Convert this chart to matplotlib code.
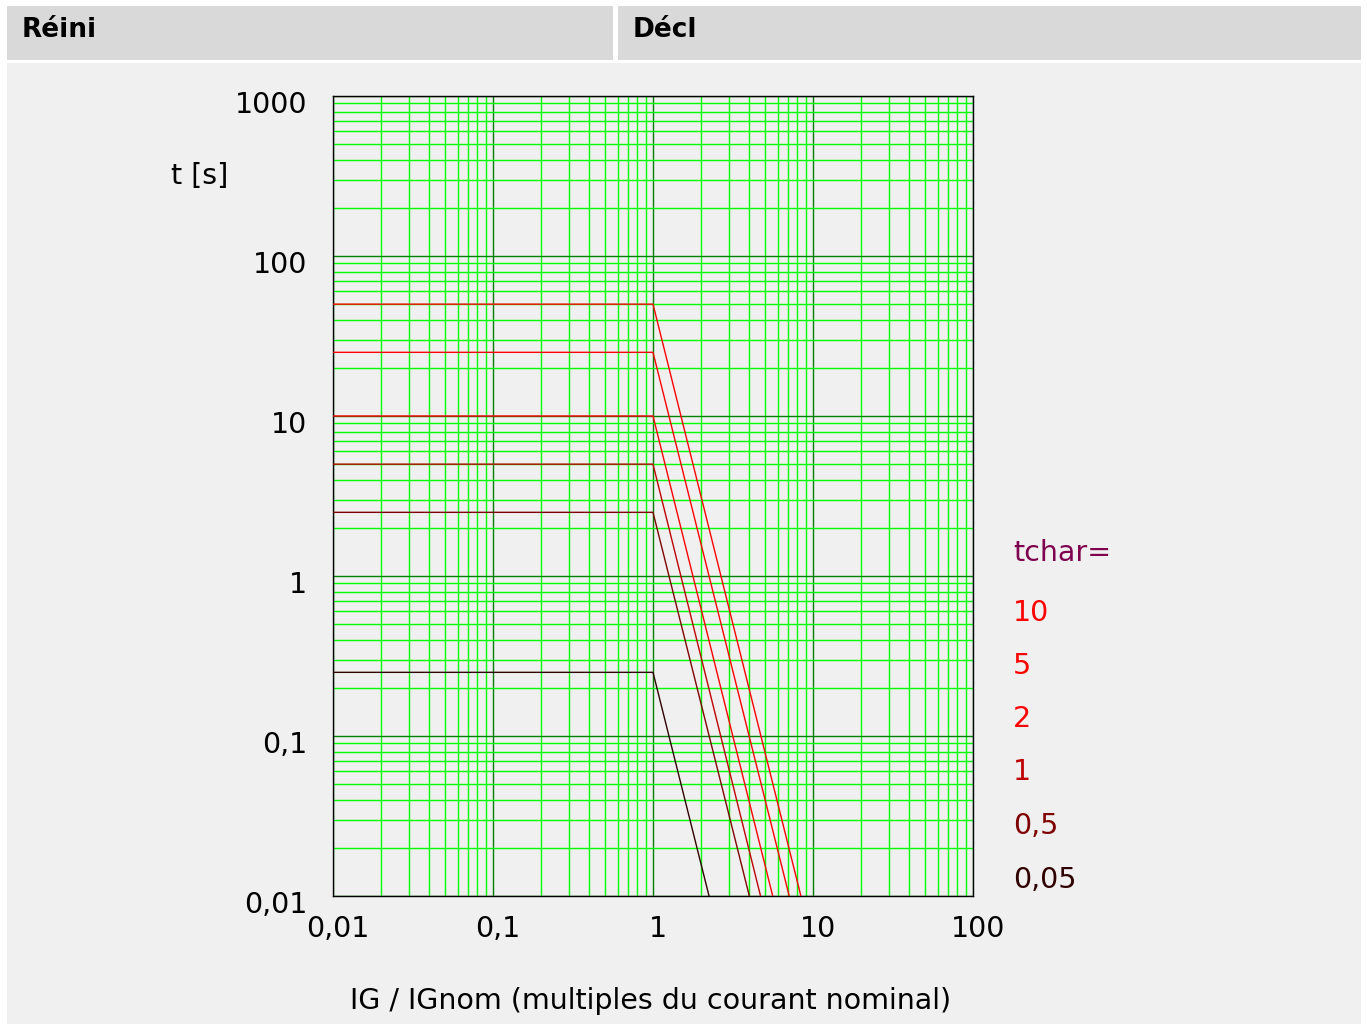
import matplotlib

matplotlib.use("Agg")

import matplotlib.pyplot as plt  # noqa: E402
import matplotlib.transforms as mtransforms  # noqa: E402
from matplotlib.patches import Rectangle  # noqa: E402
from matplotlib.ticker import FixedLocator, LogLocator, NullFormatter  # noqa: E402

# ── data ──────────────────────────────────────────────────────────────────────

tchar_labels = ["10", "5", "2", "1", "0,5", "0,05"]
plateau_t = [50, 25, 10, 5, 2.5, 0.25]   # t [s] for IG/IGnom < 1
knee_x = 1.0
end_x = [8.4, 7.1, 5.6, 4.7, 4.0, 2.24]  # where each curve reaches 0.01 s
line_colors = ["#ff0000", "#ff0000", "#ff0000", "#c00000", "#800000", "#300000"]

x_ticks = [0.01, 0.1, 1, 10, 100]
x_ticklabels = ["0,01", "0,1", "1", "10", "100"]
y_ticks = [0.01, 0.1, 1, 10, 100, 1000]
y_ticklabels = ["0,01", "0,1", "1", "10", "100", "1000"]

# ── layout ────────────────────────────────────────────────────────────────────

W, H = 1367, 1024
DPI = 100
FS = 20.5


def fx(px):
    return px / W


def fy(py):
    return 1 - py / H


fig = plt.figure(figsize=(W / DPI, H / DPI), dpi=DPI, facecolor="white")

# header boxes and body panel
for x0, y0, x1, y1, c in [
    (7, 6, 613, 60, "#d9d9d9"),
    (618, 6, 1361, 60, "#d9d9d9"),
    (7, 63, 1361, 1024, "#f0f0f0"),
]:
    fig.patches.append(Rectangle((fx(x0), fy(y1)), fx(x1 - x0), (y1 - y0) / H,
                                 transform=fig.transFigure, facecolor=c,
                                 edgecolor="none", zorder=-10))

fig.text(fx(22), fy(30), "Réini", fontsize=19, fontweight="bold", va="center", ha="left")
fig.text(fx(633), fy(30), "Décl", fontsize=19, fontweight="bold", va="center", ha="left")

ax = fig.add_axes([fx(333), fy(896), fx(973 - 333), (896 - 96) / H])
ax.set_zorder(1)
ax.set_facecolor("#f0f0f0")
ax.set_xscale("log")
ax.set_yscale("log")
ax.set_xlim(0.01, 100)
ax.set_ylim(0.01, 1000)

# grid: light green minor, dark green decades
ax.xaxis.set_minor_locator(LogLocator(base=10, subs=range(2, 10), numticks=20))
ax.yaxis.set_minor_locator(LogLocator(base=10, subs=range(2, 10), numticks=20))
ax.xaxis.set_minor_formatter(NullFormatter())
ax.yaxis.set_minor_formatter(NullFormatter())
ax.grid(True, which="minor", color="#00ff00", linewidth=1.0)
ax.grid(True, which="major", color="#008000", linewidth=1.0)
ax.set_axisbelow(True)

for sp in ax.spines.values():
    sp.set_color("black")
    sp.set_linewidth(1.0)

ax.xaxis.set_major_locator(FixedLocator(x_ticks))
ax.set_xticklabels(x_ticklabels)
ax.yaxis.set_major_locator(FixedLocator(y_ticks))
ax.set_yticklabels(y_ticklabels)
ax.tick_params(which="both", length=0)
ax.tick_params(axis="x", labelsize=FS, pad=14)
ax.tick_params(axis="y", labelsize=FS, pad=18.5)

shift_x = mtransforms.ScaledTranslation(5 / DPI, 0, fig.dpi_scale_trans)
for lbl in ax.get_xticklabels():
    lbl.set_transform(lbl.get_transform() + shift_x)
shift_y = mtransforms.ScaledTranslation(0, -6 / DPI, fig.dpi_scale_trans)
for lbl in ax.get_yticklabels():
    lbl.set_transform(lbl.get_transform() + shift_y)

# characteristic curves
for t0, xe, c in zip(plateau_t, end_x, line_colors):
    ax.plot([0.01, knee_x, xe], [t0, t0, 0.01], color=c, linewidth=1.0,
            solid_joinstyle="miter", zorder=3)

# axis titles
fig.text(fx(171), fy(176), "t [s]", fontsize=FS, ha="left", va="center")
fig.text(fx(651), fy(1001), "IG / IGnom (multiples du courant nominal)",
         fontsize=FS, ha="center", va="center")

# legend labels
fig.text(fx(1013), fy(553), "tchar=", fontsize=FS, color="#800050", ha="left", va="center")
legend_y = [613, 666, 719, 772, 826, 880]
for lab, c, py in zip(tchar_labels, line_colors, legend_y):
    fig.text(fx(1013), fy(py), lab, fontsize=FS, color=c, ha="left", va="center")

fig.savefig("out.png", dpi=DPI)
plt.close(fig)
